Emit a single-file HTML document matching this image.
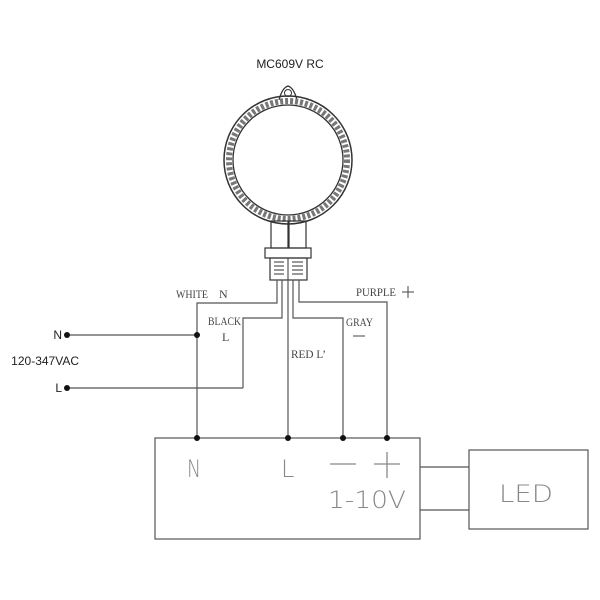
<!DOCTYPE html>
<html><head><style>html,body{margin:0;padding:0;background:#fff}svg{display:block}</style></head><body>
<svg width="600" height="600" viewBox="0 0 600 600" xmlns="http://www.w3.org/2000/svg">
<rect width="600" height="600" fill="#fff"/>
<text x="290" y="68" font-family="Liberation Sans, sans-serif" font-size="12" text-anchor="middle" fill="#222">MC609V  RC</text>
<g fill="none" stroke="#333">
<path d="M279 100 Q282 88 288 86 Q294 88 297 100" stroke-width="1.2"/>
<circle cx="288" cy="93" r="3.5" stroke-width="1"/>
<circle cx="288" cy="160" r="64" stroke-width="1.5"/>
<circle cx="288" cy="160" r="59" stroke-width="6" stroke-dasharray="3 2" stroke="#777"/>
<circle cx="288" cy="160" r="55" stroke-width="1.3"/>
<rect x="271" y="221" width="17" height="27" stroke-width="1.2"/>
<rect x="289" y="221" width="17" height="27" stroke-width="1.2"/>
<rect x="265" y="248" width="46" height="10" stroke-width="1.2"/>
<rect x="270" y="258" width="37" height="22" stroke-width="1.2"/>
</g>
<g stroke="#333" stroke-width="1">
<line x1="274" y1="262" x2="284" y2="262"/><line x1="274" y1="266" x2="284" y2="266"/><line x1="274" y1="270" x2="284" y2="270"/><line x1="274" y1="274" x2="284" y2="274"/>
<line x1="292" y1="262" x2="303" y2="262"/><line x1="292" y1="266" x2="303" y2="266"/><line x1="292" y1="270" x2="303" y2="270"/><line x1="292" y1="274" x2="303" y2="274"/>
<line x1="288" y1="258" x2="288" y2="280"/>
</g>
<g fill="none" stroke="#555" stroke-width="1.2">
<polyline points="277,280 277,303 197,303 197,438"/>
<polyline points="282,280 282,318 243,318 243,388"/>
<polyline points="288,280 288,438"/>
<polyline points="293,280 293,318 343,318 343,438"/>
<polyline points="299,280 299,302 387,302 387,438"/>
<line x1="67" y1="335" x2="197" y2="335"/>
<line x1="67" y1="388" x2="243" y2="388"/>
<rect x="155" y="438" width="265" height="101"/>
<rect x="469" y="450" width="119" height="79"/>
<line x1="420" y1="467" x2="469" y2="467"/>
<line x1="420" y1="510" x2="469" y2="510"/>
</g>
<g fill="#111">
<circle cx="67" cy="335" r="3"/><circle cx="67" cy="388" r="3"/><circle cx="197" cy="335" r="3"/>
<circle cx="197" cy="438" r="3"/><circle cx="288" cy="438" r="3"/><circle cx="343" cy="438" r="3"/><circle cx="387" cy="438" r="3"/>
</g>
<g font-family="Liberation Serif, serif" font-size="12" fill="#444" lengthAdjust="spacingAndGlyphs">
<text x="176" y="298" textLength="32" lengthAdjust="spacingAndGlyphs">WHITE</text><text x="219" y="298">N</text>
<text x="208" y="325" textLength="33" lengthAdjust="spacingAndGlyphs">BLACK</text><text x="222" y="341">L</text>
<text x="291" y="358" textLength="35" lengthAdjust="spacingAndGlyphs">RED L’</text>
<text x="346" y="326" textLength="27" lengthAdjust="spacingAndGlyphs">GRAY</text>
<text x="356" y="296" textLength="40" lengthAdjust="spacingAndGlyphs">PURPLE</text>
</g>
<g stroke="#444" stroke-width="1" fill="none">
<line x1="353" y1="336" x2="365" y2="336"/>
<line x1="402" y1="292" x2="414" y2="292"/><line x1="408" y1="286" x2="408" y2="298"/>
</g>
<g font-family="Liberation Sans, sans-serif" font-size="12" fill="#222" text-anchor="end">
<text x="62" y="339">N</text>
<text x="62" y="392">L</text>
<text x="79" y="365">120-347VAC</text>
</g>
<g fill="#888" font-family="DejaVu Sans, sans-serif" font-weight="200" font-size="24">
<text x="187" y="477" textLength="14" lengthAdjust="spacingAndGlyphs">N</text>
<text x="281" y="477">L</text>
<text x="328" y="508" textLength="78" lengthAdjust="spacingAndGlyphs">1-10V</text>
<text x="499" y="502" textLength="54" lengthAdjust="spacingAndGlyphs">LED</text>
</g>
<g stroke="#888" stroke-width="1.3">
<line x1="330" y1="464" x2="356" y2="464"/>
<line x1="374" y1="464" x2="400" y2="464"/><line x1="387" y1="452" x2="387" y2="478"/>
</g>
</svg>
</body></html>
